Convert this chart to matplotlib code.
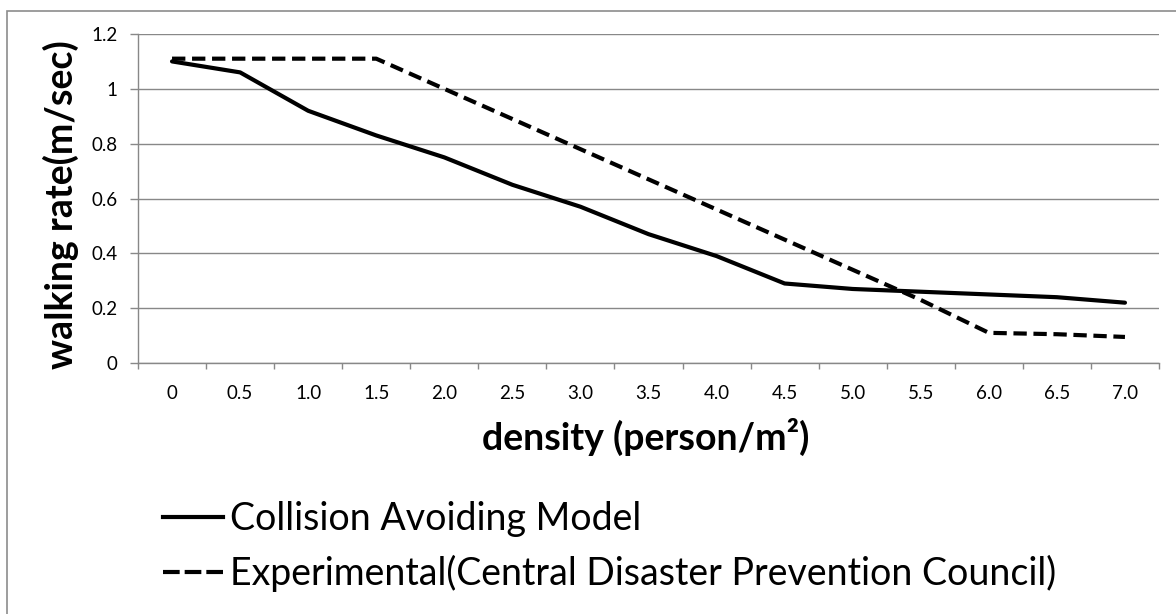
import matplotlib
matplotlib.use("Agg")
import matplotlib.pyplot as plt
from matplotlib.patches import Rectangle
from matplotlib.lines import Line2D

plt.rcParams['font.family'] = ['Lato', 'DejaVu Sans']

# density categories (person/m2)
density = ["0", "0.5", "1.0", "1.5", "2.0", "2.5", "3.0", "3.5",
           "4.0", "4.5", "5.0", "5.5", "6.0", "6.5", "7.0"]
# walking rate (m/sec)
model_rate = [1.10, 1.06, 0.92, 0.83, 0.75, 0.65, 0.57, 0.47,
              0.39, 0.29, 0.27, 0.26, 0.25, 0.24, 0.22]
experimental_rate = [1.11, 1.11, 1.11, 1.11, 1.00, 0.89, 0.78, 0.67,
                     0.56, 0.45, 0.34, 0.23, 0.11, 0.105, 0.095]
yticks = [0, 0.2, 0.4, 0.6, 0.8, 1.0, 1.2]
ytick_labels = ["0", "0.2", "0.4", "0.6", "0.8", "1", "1.2"]

W, H = 1176, 614
fig = plt.figure(figsize=(W / 100, H / 100), dpi=100)

# outer chart border
fig.patches.append(Rectangle((7 / W, -0.1), 1.2, 1 - 11 / H + 0.1,
                             transform=fig.transFigure, fill=False,
                             edgecolor="#8c8c8c", linewidth=1.2))

ax = fig.add_axes([138 / W, 1 - 363 / H, (1159 - 138) / W, (363 - 34) / H])
x = list(range(len(density)))

grey = "#888888"
ax.plot(x, model_rate, color="black", lw=3, solid_capstyle="round",
        solid_joinstyle="round")
ax.plot(x, experimental_rate, color="black", lw=3, dashes=(3.2, 1.6),
        dash_joinstyle="round")

ax.set_xlim(-0.5, len(density) - 0.5)
ax.set_ylim(0, 1.2)
ax.set_yticks(yticks)
ax.set_yticklabels(ytick_labels, fontsize=13.5)
ax.set_xticks(x)
ax.set_xticklabels(density, fontsize=13.5)
ax.set_xticks([i - 0.5 for i in range(len(density) + 1)], minor=True)
ax.tick_params(axis="x", which="major", length=0, pad=16)
ax.tick_params(axis="x", which="minor", length=4.5, color=grey, width=1)
ax.tick_params(axis="y", length=6, color=grey, width=1, pad=8.5)
ax.yaxis.grid(True, color=grey, lw=1)
ax.set_axisbelow(True)
for s in ["top", "right"]:
    ax.spines[s].set_visible(False)
for s in ["left", "bottom"]:
    ax.spines[s].set_color(grey)
    ax.spines[s].set_linewidth(1)

fig.text(61 / W, 1 - 205 / H, "walking rate(m/sec)", rotation=90,
         ha="center", va="center", fontsize=27, fontweight="bold")
fig.text(646 / W, 1 - 450 / H, "density (person/m²)",
         ha="center", va="baseline", fontsize=27, fontweight="bold")

handles = [Line2D([], [], color="black", lw=3),
           Line2D([], [], color="black", lw=3, dashes=(4, 1.2))]
labels = ["Collision Avoiding Model",
          "Experimental(Central Disaster Prevention Council)"]
fs = 27
fs_px = fs * 100 / 72
ax.legend(handles, labels, loc="upper left",
          bbox_to_anchor=(163 / W, 1 - 501 / H), bbox_transform=fig.transFigure,
          frameon=False, fontsize=fs, borderpad=0, borderaxespad=0,
          handlelength=60 / fs_px, handletextpad=7 / fs_px, labelspacing=0.47)

fig.savefig("out.png", dpi=100)
